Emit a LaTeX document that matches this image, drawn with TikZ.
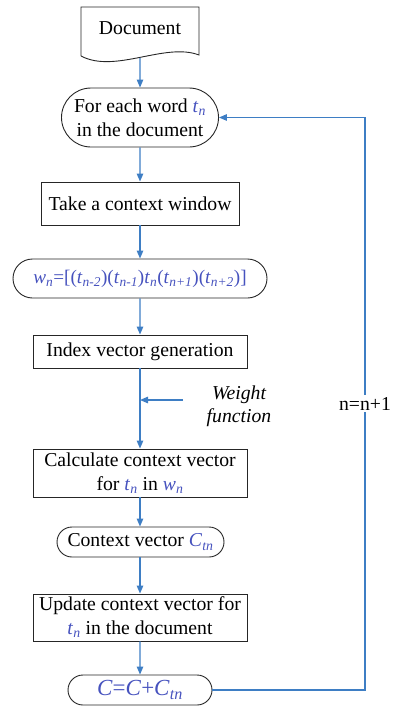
\documentclass[tikz,border=0pt]{standalone}
\usepackage{fontspec}
\setmainfont{Liberation Serif}
\usetikzlibrary{shapes.misc, arrows.meta, positioning}
\definecolor{lineblue}{RGB}{62,126,196}
\definecolor{txtblue}{RGB}{70,82,190}
\newcommand{\bl}[1]{\textcolor{txtblue}{#1}}
\newcommand{\tv}[2]{\textcolor{txtblue}{\textit{#1}\textsubscript{\textit{#2}}}}
\tikzstyle{docbox} = [rectangle, minimum width=118pt, minimum height=48pt, inner sep=0pt, text height=14pt, text depth=7pt, text centered]
\tikzstyle{process} = [rectangle, draw=black!85, line width=0.9pt, inner sep=0pt, align=center]
\tikzstyle{terminal} = [rounded rectangle, draw=black!85, line width=0.9pt, inner sep=0pt, align=center]
\tikzstyle{arrow} = [draw=lineblue, line width=1.2pt, -{Triangle[width=6.5pt,length=8pt]}]

\begin{document}
\begin{tikzpicture}[x=1pt, y=-1pt, font=\fontsize{19.7}{24}\selectfont]
\useasboundingbox (0,0) rectangle (393,707);

\node (doc)    [docbox] at (140,31) {Document};
\node (each)   [terminal, minimum width=157pt, minimum height=59pt] at (140,117.5) {For each word \tv{t}{n}\\in the document};
\node (window) [process, minimum width=198pt, minimum height=43pt] at (140,203.5) {Take a context window};
\node (wn)     [terminal, minimum width=254pt, minimum height=39pt, font=\fontsize{19.2}{24}\selectfont] at (140,278.5) {\bl{\textit{w}\textsubscript{\textit{n}}=[(\textit{t}\textsubscript{\textit{n-2}})(\textit{t}\textsubscript{\textit{n-1}})\textit{t}\textsubscript{\textit{n}}(\textit{t}\textsubscript{\textit{n+1}})(\textit{t}\textsubscript{\textit{n+2}})]}};
\node (index)  [process, minimum width=214pt, minimum height=33pt] at (140,351.5) {Index vector generation};
\node (calc)   [process, minimum width=214pt, minimum height=48pt] at (140,473) {Calculate context vector\\for \tv{t}{n} in \tv{w}{n}};
\node (ctx)    [terminal, minimum width=167pt, minimum height=30pt] at (140.5,542) {Context vector \tv{C}{tn}};
\node (update) [process, minimum width=214pt, minimum height=47pt] at (140,617.5) {Update context vector for\\\tv{t}{n} in the document};
\node (sum)    [terminal, minimum width=144pt, minimum height=30pt, font=\fontsize{23}{26}\selectfont] at (140,690) {\bl{\textit{C}=\textit{C}+\textit{C}\textsubscript{\textit{tn}}}};

% document outline with wavy bottom
\draw [black!85, line width=0.9pt] (81,56) -- (81,7) -- (199,7) -- (199,55) .. controls (165,42) and (115,74) .. (81,56);

% main flow
\draw [arrow] ([yshift=-3pt]doc.south) -- (each);
\draw [arrow] (each) -- (window);
\draw [arrow] (window) -- (wn);
\draw [arrow] (wn) -- (index);
\draw [arrow] (index) -- (calc);
\draw [arrow] (calc) -- (calc.north |- ctx.north);
\draw [arrow] (ctx.south -| update.north) -- (update);
\draw [arrow] (update) -- (sum);

% weight function input
\coordinate (wfrom) at (183,400);
\draw [arrow] (wfrom) -- (wfrom -| index.south);
\node (wlabel) [font=\fontsize{19.7}{23}\selectfont\itshape, align=center] at (239,406) {Weight\\function};

% loop back
\coordinate (back) at (365,690);
\draw [arrow] (sum.east) -- (back) |- (each.east) node[pos=0.25, fill=white, inner sep=2pt, text=black] {n=n+1};

\end{tikzpicture}
\end{document}
